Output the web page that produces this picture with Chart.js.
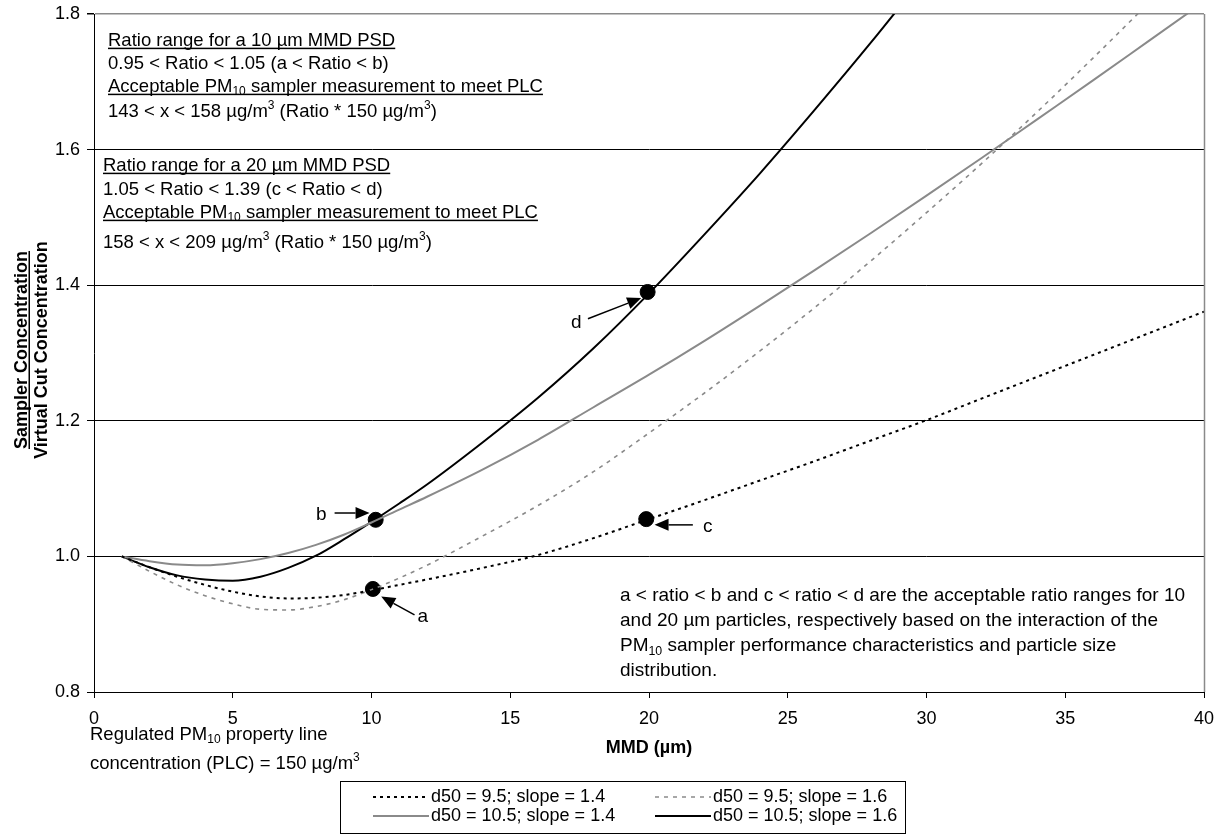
<!DOCTYPE html>
<html>
<head>
<meta charset="utf-8">
<script src="https://cdn.jsdelivr.net/npm/chart.js@4.4.1/dist/chart.umd.min.js"></script>
<style>
  html, body { margin: 0; padding: 0; background: #fff; }
  canvas { display: block; }
</style>
</head>
<body>
<canvas id="chart" width="1219" height="837"></canvas>
<script>
// MMD values (µm) shared by all four curves
const mmd = [1, 2, 3, 4, 5, 6, 7, 8, 9, 10, 11, 12, 14, 16, 18, 20, 22, 24, 26, 28, 30, 32, 34, 36, 38, 40];

// ratio = sampler concentration / virtual cut concentration
const d95s14 = [1.000, 0.984, 0.970, 0.958, 0.948, 0.941, 0.938, 0.939, 0.943, 0.950, 0.958, 0.966, 0.983, 1.002, 1.027, 1.055, 1.083, 1.112, 1.141, 1.171, 1.201, 1.233, 1.265, 1.297, 1.329, 1.361];
const d95s16 = [1.000, 0.978, 0.958, 0.942, 0.930, 0.922, 0.921, 0.926, 0.936, 0.951, 0.968, 0.987, 1.030, 1.075, 1.125, 1.182, 1.241, 1.303, 1.368, 1.436, 1.507, 1.580, 1.656, 1.735, 1.816, null];
const d105s14 = [1.000, 0.993, 0.988, 0.987, 0.990, 0.996, 1.005, 1.017, 1.032, 1.050, 1.069, 1.088, 1.128, 1.172, 1.220, 1.268, 1.318, 1.370, 1.423, 1.477, 1.532, 1.588, 1.645, 1.702, 1.760, 1.818];
const d105s16 = [1.000, 0.984, 0.972, 0.966, 0.964, 0.970, 0.983, 1.001, 1.025, 1.051, 1.078, 1.106, 1.168, 1.234, 1.307, 1.388, 1.475, 1.565, 1.660, 1.758, 1.860, null, null, null, null, null];

const seriesNames = ['d50 = 9.5; slope = 1.4', 'd50 = 9.5; slope = 1.6', 'd50 = 10.5; slope = 1.4', 'd50 = 10.5; slope = 1.6'];

// marked points a, b, c, d
const markLabels = ['a', 'b', 'c', 'd'];
const markX = [10.05, 10.15, 19.9, 19.95];
const markY = [0.952, 1.054, 1.055, 1.39];

const xTicks = [0, 5, 10, 15, 20, 25, 30, 35, 40];
const yTicks = [0.8, 1.0, 1.2, 1.4, 1.6, 1.8];

// callout arrows (data coords): label pos, arrow tail, arrow tip
const callouts = [
    { t: 'a', tx: 11.85, ty: 0.911, x0: 11.55, y0: 0.9137, x1: 10.35, y1: 0.9407 },
    { t: 'b', tx: 8.19, ty: 1.061, x0: 8.67, y0: 1.064, x1: 9.93, y1: 1.064 },
    { t: 'c', tx: 22.12, ty: 1.044, x0: 21.58, y0: 1.0465, x1: 20.2, y1: 1.0465 },
    { t: 'd', tx: 17.38, ty: 1.344, x0: 17.8, y0: 1.3505, x1: 19.72, y1: 1.381 }
];

const FONT = '"Liberation Sans", Arial, sans-serif';
const GRAY = '#8a8a8a';

function pts(ys) {
    return mmd.map((x, i) => ({ x: x, y: ys[i] }));
}

const styles = [
    { color: '#000', dash: [3, 4], width: 2 },
    { color: GRAY, dash: [4, 5], width: 1.6 },
    { color: GRAY, dash: [], width: 2 },
    { color: '#000', dash: [], width: 2 }
];
const values = [d95s14, d95s16, d105s14, d105s16];

const datasets = values.map((ys, i) => ({
    label: seriesNames[i],
    data: pts(ys),
    borderColor: styles[i].color,
    borderDash: styles[i].dash,
    borderWidth: styles[i].width,
    pointRadius: 0,
    showLine: true,
    cubicInterpolationMode: 'monotone',
    spanGaps: false,
    clip: 0
}));
datasets.push({
    label: 'marks',
    data: markX.map((x, i) => ({ x: x, y: markY[i] })),
    backgroundColor: '#000',
    borderColor: '#000',
    pointRadius: 7.5,
    showLine: false
});

// text helpers: segments are strings or [text, 'sub' | 'sup']
function drawRich(ctx, segs, x, cy, size, underline, bold) {
    const base = cy + size * 0.36;
    let cx = x;
    segs.forEach(s => {
        let txt = s, mode = '';
        if (Array.isArray(s)) { txt = s[0]; mode = s[1]; }
        let fs = size, y = base;
        if (mode === 'sub') { fs = size * 0.65; y = base + size * 0.2; }
        if (mode === 'sup') { fs = size * 0.65; y = base - size * 0.42; }
        ctx.font = (bold ? 'bold ' : '') + fs + 'px ' + FONT;
        ctx.fillText(txt, cx, y);
        cx += ctx.measureText(txt).width;
    });
    if (underline) {
        ctx.fillRect(x, base + 2, cx - x, 1.5);
    }
}

const notes = [
    { x: 108, y: 39, f: 18.5, u: true, s: ['Ratio range for a 10 \u00b5m MMD PSD'] },
    { x: 108, y: 62, f: 18.5, u: false, s: ['0.95 < Ratio < 1.05 (a < Ratio < b)'] },
    { x: 108, y: 85, f: 18.5, u: true, s: ['Acceptable PM', ['10', 'sub'], ' sampler measurement to meet PLC'] },
    { x: 108, y: 110, f: 18.5, u: false, s: ['143 < x < 158 \u00b5g/m', ['3', 'sup'], ' (Ratio * 150 \u00b5g/m', ['3', 'sup'], ')'] },
    { x: 103, y: 164, f: 18.5, u: true, s: ['Ratio range for a 20 \u00b5m MMD PSD'] },
    { x: 103, y: 188, f: 18.5, u: false, s: ['1.05 < Ratio < 1.39 (c < Ratio < d)'] },
    { x: 103, y: 211, f: 18.5, u: true, s: ['Acceptable PM', ['10', 'sub'], ' sampler measurement to meet PLC'] },
    { x: 103, y: 241, f: 18.5, u: false, s: ['158 < x < 209 \u00b5g/m', ['3', 'sup'], ' (Ratio * 150 \u00b5g/m', ['3', 'sup'], ')'] },
    { x: 620, y: 594, f: 19, u: false, s: ['a < ratio < b and c < ratio < d are the acceptable ratio ranges for 10'] },
    { x: 620, y: 619, f: 19, u: false, s: ['and 20 \u00b5m particles, respectively based on the interaction of the'] },
    { x: 620, y: 644, f: 19, u: false, s: ['PM', ['10', 'sub'], ' sampler performance characteristics and particle size'] },
    { x: 620, y: 669, f: 19, u: false, s: ['distribution.'] },
    { x: 90, y: 733, f: 18.5, u: false, s: ['Regulated PM', ['10', 'sub'], ' property line'] },
    { x: 90, y: 762, f: 18.5, u: false, s: ['concentration (PLC) = 150 \u00b5g/m', ['3', 'sup']] }
];

const decor = {
    id: 'decor',
    afterDraw(chart) {
        const ctx = chart.ctx;
        const a = chart.chartArea;
        const xs = chart.scales.x, ys = chart.scales.y;
        ctx.save();

        // right border
        ctx.strokeStyle = GRAY;
        ctx.lineWidth = 1.5;
        ctx.beginPath();
        ctx.moveTo(Math.round(a.right) + 0.5, a.top);
        ctx.lineTo(Math.round(a.right) + 0.5, a.bottom);
        ctx.stroke();

        ctx.fillStyle = '#000';
        ctx.textAlign = 'left';
        ctx.textBaseline = 'alphabetic';
        notes.forEach(n => drawRich(ctx, n.s, n.x, n.y, n.f, n.u, false));

        // callouts
        callouts.forEach(c => {
            const px0 = xs.getPixelForValue(c.x0), py0 = ys.getPixelForValue(c.y0);
            const px1 = xs.getPixelForValue(c.x1), py1 = ys.getPixelForValue(c.y1);
            const ang = Math.atan2(py1 - py0, px1 - px0);
            const hl = 14, hw = 6;
            const bx = px1 - hl * Math.cos(ang), by = py1 - hl * Math.sin(ang);
            ctx.strokeStyle = '#000';
            ctx.lineWidth = 1.5;
            ctx.beginPath();
            ctx.moveTo(px0, py0);
            ctx.lineTo(bx, by);
            ctx.stroke();
            ctx.beginPath();
            ctx.moveTo(px1, py1);
            ctx.lineTo(bx + hw * Math.sin(ang), by - hw * Math.cos(ang));
            ctx.lineTo(bx - hw * Math.sin(ang), by + hw * Math.cos(ang));
            ctx.closePath();
            ctx.fill();
            ctx.font = '19px ' + FONT;
            ctx.textAlign = 'center';
            ctx.textBaseline = 'middle';
            ctx.fillText(c.t, xs.getPixelForValue(c.tx), ys.getPixelForValue(c.ty));
        });

        // axis titles
        ctx.font = 'bold 18px ' + FONT;
        ctx.textAlign = 'center';
        ctx.textBaseline = 'middle';
        ctx.fillText('MMD (\u00b5m)', (a.left + a.right) / 2, 748);

        ctx.save();
        ctx.translate(20, 350);
        ctx.rotate(-Math.PI / 2);
        ctx.textBaseline = 'alphabetic';
        const t1 = 'Sampler Concentration';
        const w1 = ctx.measureText(t1).width;
        ctx.fillText(t1, 0, 6.5);
        ctx.fillRect(-w1 / 2, 8.5, w1, 1.5);
        ctx.fillText('Virtual Cut Concentration', 0, 26.5);
        ctx.restore();

        // legend box
        ctx.strokeStyle = '#000';
        ctx.lineWidth = 1;
        ctx.strokeRect(340.5, 781.5, 565, 52);
        ctx.font = '18px ' + FONT;
        ctx.textAlign = 'left';
        ctx.textBaseline = 'middle';
        for (let i = 0; i < 4; i++) {
            const ds = chart.data.datasets[i];
            const lx = (i % 2) ? 655 : 373;
            const ly = (i < 2) ? 797 : 816;
            ctx.strokeStyle = ds.borderColor;
            ctx.lineWidth = ds.borderWidth;
            ctx.setLineDash(ds.borderDash);
            ctx.beginPath();
            ctx.moveTo(lx, ly);
            ctx.lineTo(lx + 56, ly);
            ctx.stroke();
            ctx.setLineDash([]);
            ctx.fillText(ds.label, lx + 58, ly);
        }
        ctx.restore();
    }
};

new Chart(document.getElementById('chart'), {
    type: 'scatter',
    data: { datasets: datasets },
    plugins: [decor],
    options: {
        responsive: false,
        animation: false,
        events: [],
        layout: { autoPadding: false, padding: { top: 14, right: 15, left: 0, bottom: 0 } },
        plugins: { legend: { display: false }, tooltip: { enabled: false } },
        scales: {
            x: {
                type: 'linear',
                min: 0,
                max: 40,
                afterBuildTicks: s => { s.ticks = xTicks.map(v => ({ value: v })); },
                afterFit: s => { s.height = 145; s.paddingLeft = 0; s.paddingRight = 0; },
                ticks: { color: '#000', font: { family: FONT, size: 18 }, padding: 10 },
                grid: { drawOnChartArea: false, tickLength: 6, tickColor: '#000' },
                border: { color: '#000', width: 1 }
            },
            y: {
                min: 0.8,
                max: 1.8,
                afterBuildTicks: s => { s.ticks = yTicks.map(v => ({ value: v })); },
                afterFit: s => { s.width = 94; s.paddingTop = 0; s.paddingBottom = 0; },
                ticks: {
                    color: '#000',
                    font: { family: FONT, size: 18 },
                    padding: 7,
                    callback: v => v.toFixed(1)
                },
                grid: {
                    color: c => (c.tick && c.tick.value > 1.79) ? GRAY : '#000',
                    lineWidth: c => (c.tick && c.tick.value > 1.79) ? 1.5 : 1,
                    tickLength: 7,
                    tickColor: '#000'
                },
                border: { color: '#000', width: 1 }
            }
        }
    }
});
</script>
</body>
</html>
